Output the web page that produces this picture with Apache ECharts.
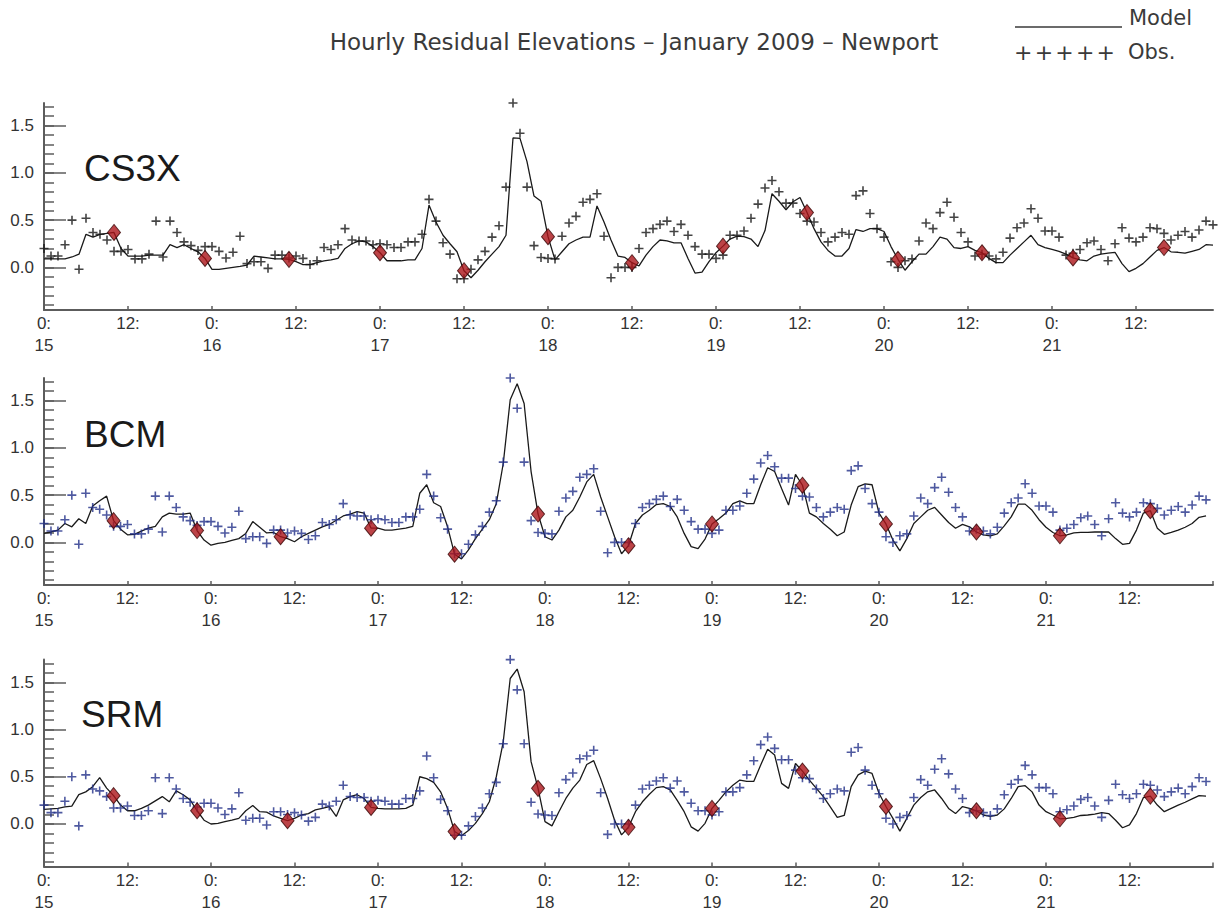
<!DOCTYPE html>
<html>
<head>
<meta charset="utf-8">
<title>Hourly Residual Elevations - January 2009 - Newport</title>
<script src="https://cdn.jsdelivr.net/npm/echarts@6/dist/echarts.min.js"></script>
<style>
  html, body { margin: 0; padding: 0; background: #ffffff; }
  #chart { width: 1219px; height: 914px; }
</style>
</head>
<body>
<div id="chart"></div>
<script>
// Hour offsets from 0:00, 15 January 2009
const hours = [
  0,1,2,3,4,5,6,7,8,9,10,11,12,13,14,15,16,17,18,19,20,21,22,23,
  24,25,26,27,28,29,30,31,32,33,34,35,36,37,38,39,40,41,42,43,44,45,46,47,
  48,49,50,51,52,53,54,55,56,57,58,59,60,61,62,63,64,65,66,67,68,69,70,71,
  72,73,74,75,76,77,78,79,80,81,82,83,84,85,86,87,88,89,90,91,92,93,94,95,
  96,97,98,99,100,101,102,103,104,105,106,107,108,109,110,111,112,113,114,115,116,117,118,119,
  120,121,122,123,124,125,126,127,128,129,130,131,132,133,134,135,136,137,138,139,140,141,142,143,
  144,145,146,147,148,149,150,151,152,153,154,155,156,157,158,159,160,161,162,163,164,165,166,167
];

// Observed hourly residual elevation (m)
const observed = [
  0.20,0.12,0.12,0.24,0.50,-0.02,0.52,0.37,0.35,0.29,0.17,0.17,0.19,0.09,0.09,0.14,0.49,0.11,0.49,0.37,0.27,0.23,0.18,0.22,
  0.22,0.17,0.10,0.16,0.33,0.04,0.06,0.06,-0.01,0.13,0.13,0.10,0.12,0.095,0.03,0.07,0.21,0.19,0.24,0.41,0.29,0.28,0.28,0.24,
  0.25,0.24,0.21,0.21,0.27,0.27,0.35,0.72,0.49,0.26,0.14,-0.12,-0.12,-0.02,0.08,0.17,0.32,0.44,0.85,1.74,1.42,0.85,0.23,0.105,
  0.095,0.09,0.33,0.47,0.54,0.69,0.72,0.78,0.33,-0.11,0.0,0.0,0.0,0.20,0.37,0.41,0.455,0.49,0.38,0.455,0.34,0.22,0.14,0.14,
  0.095,0.13,0.34,0.34,0.385,0.52,0.67,0.84,0.92,0.80,0.68,0.68,0.57,0.49,0.48,0.37,0.27,0.32,0.37,0.35,0.76,0.81,0.57,0.41,
  0.32,0.06,0.0,0.07,0.09,0.28,0.47,0.41,0.58,0.69,0.53,0.37,0.27,0.12,0.14,0.12,0.09,0.16,0.31,0.42,0.47,0.62,0.52,0.385,
  0.385,0.32,0.13,0.15,0.19,0.26,0.28,0.19,0.07,0.25,0.42,0.31,0.27,0.32,0.42,0.41,0.36,0.29,0.34,0.38,0.32,0.395,0.49,0.45
];

// CS3X model residual (m)
const modelCS3X = [
  0.09,0.09,0.09,0.09,0.11,0.14,0.35,0.32,0.35,0.36,0.37,0.20,0.12,0.12,0.12,0.13,0.13,0.13,0.24,0.21,0.24,0.20,0.165,0.095,
  -0.02,-0.02,-0.01,0.0,0.01,0.025,0.12,0.11,0.10,0.09,0.09,0.085,0.06,0.03,0.03,0.05,0.07,0.08,0.095,0.20,0.25,0.28,0.27,0.22,
  0.155,0.07,0.07,0.07,0.08,0.08,0.20,0.66,0.48,0.34,0.25,0.165,-0.035,-0.11,-0.03,0.06,0.14,0.22,0.34,1.37,1.365,1.12,0.755,0.70,
  0.325,0.08,0.165,0.25,0.29,0.32,0.32,0.65,0.48,0.29,0.12,0.105,0.05,0.015,0.13,0.22,0.29,0.28,0.26,0.26,0.095,-0.06,-0.05,0.06,
  0.155,0.225,0.30,0.33,0.325,0.30,0.22,0.39,0.78,0.70,0.61,0.695,0.74,0.58,0.41,0.27,0.18,0.12,0.12,0.20,0.40,0.38,0.41,0.41,
  0.38,0.22,0.085,-0.03,0.06,0.14,0.14,0.22,0.32,0.30,0.21,0.20,0.22,0.18,0.155,0.095,0.05,0.05,0.13,0.20,0.27,0.34,0.24,0.21,
  0.19,0.17,0.14,0.10,0.08,0.07,0.12,0.14,0.15,0.16,0.04,-0.045,-0.01,0.04,0.11,0.18,0.21,0.165,0.16,0.15,0.17,0.19,0.24,0.235
];

// BCM model residual (m)
const modelBCM = [
  0.095,0.11,0.13,0.20,0.165,0.25,0.20,0.385,0.44,0.49,0.23,0.14,0.08,0.085,0.12,0.15,0.17,0.27,0.31,0.30,0.30,0.31,0.125,0.025,
  -0.03,-0.01,0.0,0.02,0.04,0.095,0.22,0.16,0.10,0.105,0.06,0.04,0.007,0.06,0.095,0.13,0.165,0.19,0.235,0.28,0.30,0.325,0.31,0.15,
  0.15,0.13,0.13,0.14,0.15,0.17,0.52,0.61,0.42,0.38,0.165,-0.125,-0.175,-0.08,0.04,0.14,0.24,0.41,0.835,1.51,1.68,1.47,0.75,0.30,
  0.06,0.025,0.13,0.27,0.34,0.48,0.64,0.72,0.48,0.27,0.06,-0.12,-0.035,0.20,0.29,0.34,0.40,0.41,0.38,0.27,0.095,-0.045,-0.065,0.035,
  0.195,0.25,0.31,0.41,0.44,0.41,0.41,0.61,0.79,0.75,0.57,0.395,0.72,0.605,0.31,0.27,0.20,0.14,0.07,0.11,0.395,0.59,0.62,0.61,
  0.31,0.195,0.025,-0.09,0.04,0.20,0.27,0.34,0.37,0.29,0.21,0.15,0.19,0.165,0.11,0.08,0.07,0.09,0.175,0.27,0.405,0.405,0.34,0.24,
  0.16,0.105,0.07,0.08,0.10,0.105,0.105,0.11,0.11,0.11,0.04,-0.02,-0.01,0.13,0.31,0.335,0.15,0.085,0.105,0.13,0.16,0.20,0.265,0.28
];

// SRM model residual (m)
const modelSRM = [
  0.155,0.16,0.165,0.18,0.19,0.31,0.34,0.395,0.49,0.38,0.30,0.20,0.14,0.14,0.165,0.20,0.245,0.29,0.235,0.35,0.31,0.255,0.14,0.04,
  0.0,0.007,0.025,0.04,0.06,0.14,0.195,0.13,0.125,0.085,0.06,0.035,0.06,0.095,0.11,0.15,0.165,0.185,0.08,0.255,0.29,0.31,0.27,0.175,
  0.165,0.16,0.16,0.16,0.165,0.20,0.50,0.48,0.44,0.34,0.165,-0.08,-0.125,-0.07,0.007,0.11,0.235,0.50,0.87,1.54,1.64,1.40,0.66,0.377,
  0.025,-0.02,0.13,0.27,0.38,0.465,0.63,0.67,0.48,0.27,0.04,-0.115,-0.035,0.13,0.235,0.315,0.385,0.395,0.36,0.25,0.13,-0.03,-0.075,0.007,
  0.165,0.25,0.34,0.41,0.465,0.45,0.45,0.625,0.79,0.73,0.43,0.377,0.64,0.56,0.465,0.377,0.29,0.18,0.07,0.09,0.395,0.52,0.56,0.535,
  0.325,0.185,0.06,-0.075,0.06,0.20,0.28,0.34,0.36,0.27,0.165,0.11,0.185,0.165,0.14,0.095,0.08,0.095,0.16,0.27,0.395,0.405,0.34,0.20,
  0.13,0.095,0.055,0.06,0.07,0.09,0.095,0.105,0.12,0.11,0.04,-0.04,-0.01,0.11,0.28,0.295,0.20,0.13,0.165,0.20,0.23,0.265,0.30,0.295
];

// Model values at the semi-diurnal marker times
const markerHoursCS3X  = [10, 23, 35, 48, 60, 72, 84, 97, 109, 122, 134, 147, 160];
const markerValuesCS3X = [0.37, 0.095, 0.085, 0.155, -0.035, 0.325, 0.05, 0.225, 0.58, 0.085, 0.155, 0.10, 0.21];
const markerHoursBCM   = [10, 22, 34, 47, 59, 71, 84, 96, 109, 121, 134, 146, 159];
const markerValuesBCM  = [0.23, 0.125, 0.06, 0.15, -0.125, 0.30, -0.035, 0.195, 0.605, 0.195, 0.11, 0.07, 0.335];
const markerHoursSRM   = [10, 22, 35, 47, 59, 71, 84, 96, 109, 121, 134, 146, 159];
const markerValuesSRM  = [0.30, 0.14, 0.035, 0.175, -0.08, 0.377, -0.035, 0.165, 0.56, 0.185, 0.14, 0.055, 0.295];

// Axis ticks
const yMajorTicks = [0.0, 0.5, 1.0, 1.5];
const yMinorTicks = [-0.4, -0.3, -0.2, -0.1, 0.0, 0.1, 0.2, 0.3, 0.4, 0.5, 0.6, 0.7, 0.8, 0.9,
                     1.0, 1.1, 1.2, 1.3, 1.4, 1.5, 1.6, 1.7];
const xTickHours = [0, 12, 24, 36, 48, 60, 72, 84, 96, 108, 120, 132, 144, 156, 168];
const xLabelHours = [0, 12, 24, 36, 48, 60, 72, 84, 96, 108, 120, 132, 144, 156];
const firstDay = 15;

const panelNames = ['CS3X', 'BCM', 'SRM'];
const panelModels = [modelCS3X, modelBCM, modelSRM];
const panelMarkerHours = [markerHoursCS3X, markerHoursBCM, markerHoursSRM];
const panelMarkerValues = [markerValuesCS3X, markerValuesBCM, markerValuesSRM];
const panelObsColors = ['#151515', '#223088', '#223088'];
const panelHourSpan = [167, 168, 168];

// Layout of the three stacked panels
const gridTops = [103, 378, 659.6];
const gridHeight = 206.9;
const labelCenters = [[84, 168], [84, 434], [81, 714]];
const Y_MIN = -0.45, Y_MAX = 1.74;

const axisGray = '#5c5c5c';
const labelFont = { fontFamily: 'Liberation Sans, Arial, sans-serif', fontSize: 17, color: '#333333' };
const crossPath = 'path://M5,0 L5,10 M0,5 L10,5';

const grids = [], xAxes = [], yAxes = [], series = [], graphics = [];

panelNames.forEach((name, k) => {
  grids.push({ left: 44, right: 6, top: gridTops[k], height: gridHeight, containLabel: false });

  const span = panelHourSpan[k];
  xAxes.push({
    gridIndex: k, type: 'value', min: 0, max: span,
    axisLine: { show: true, onZero: false, lineStyle: { color: axisGray, width: 2 } },
    axisTick: { show: true, inside: true, length: 4,
      customValues: xTickHours.filter(h => h <= span),
      lineStyle: { color: axisGray, width: 1.5 } },
    axisLabel: Object.assign({
      customValues: xLabelHours,
      margin: 3, lineHeight: 22, align: 'center',
      formatter: v => (v % 24 === 0 ? '0:\n' + (firstDay + v / 24) : '12:')
    }, labelFont),
    splitLine: { show: false }
  });

  // short ticks every 0.1 and the value labels
  yAxes.push({
    gridIndex: k, type: 'value', min: Y_MIN, max: Y_MAX, position: 'left',
    axisLine: { show: true, onZero: false, lineStyle: { color: axisGray, width: 2 } },
    axisTick: { show: true, inside: true, length: 10, customValues: yMinorTicks,
      lineStyle: { color: axisGray, width: 1.5 } },
    axisLabel: Object.assign({ customValues: yMajorTicks, margin: 10,
      formatter: v => v.toFixed(1) }, labelFont),
    splitLine: { show: false }
  });
  // long ticks at the labelled values
  yAxes.push({
    gridIndex: k, type: 'value', min: Y_MIN, max: Y_MAX, position: 'left',
    axisLine: { show: false, onZero: false },
    axisTick: { show: true, inside: true, length: 22, customValues: yMajorTicks,
      lineStyle: { color: axisGray, width: 1.5 } },
    axisLabel: { show: false },
    splitLine: { show: false }
  });

  const model = panelModels[k];
  series.push({
    name: name + ' model', type: 'line', xAxisIndex: k, yAxisIndex: 2 * k,
    data: hours.map((h, i) => [h, model[i]]),
    symbol: 'none', silent: true, z: 2,
    lineStyle: { color: '#1a1a1a', width: 1.3 }
  });
  series.push({
    name: 'Obs.', type: 'scatter', xAxisIndex: k, yAxisIndex: 2 * k,
    data: hours.map((h, i) => [h, observed[i]]),
    symbol: crossPath, symbolSize: 9, clip: false, silent: true, z: 3,
    itemStyle: { color: 'rgba(0,0,0,0)', borderColor: panelObsColors[k], borderWidth: 1.6 }
  });
  const mh = panelMarkerHours[k], mv = panelMarkerValues[k];
  series.push({
    name: name + ' markers', type: 'scatter', xAxisIndex: k, yAxisIndex: 2 * k,
    data: mh.map((h, i) => [h, mv[i]]),
    symbol: 'diamond', symbolSize: [13, 16], silent: true, z: 4,
    itemStyle: { color: '#ab1419', borderColor: '#3a0606', borderWidth: 1 }
  });

  graphics.push({
    type: 'text', x: labelCenters[k][0], y: labelCenters[k][1],
    style: { text: name, fontFamily: 'Liberation Sans, Arial, sans-serif',
      fontSize: 37, fill: '#1a1a1a', verticalAlign: 'middle' }
  });
});

// Title and the line / cross key in the top-right corner
const headFont = 'DejaVu Sans, Liberation Sans, sans-serif';
const headColor = '#3a3a3a';
graphics.push(
  { type: 'text', x: 634, y: 42,
    style: { text: 'Hourly Residual Elevations \u2013 January 2009 \u2013 Newport',
      fontFamily: headFont, fontSize: 23, fill: headColor, align: 'center', verticalAlign: 'middle' } },
  { type: 'line', shape: { x1: 1015, y1: 27, x2: 1122, y2: 27 },
    style: { stroke: headColor, lineWidth: 1.3 } },
  { type: 'text', x: 1129, y: 18,
    style: { text: 'Model', fontFamily: headFont, fontSize: 21, fill: headColor, verticalAlign: 'middle' } },
  { type: 'text', x: 1014, y: 52,
    style: { text: '+\u200A+\u200A+\u200A+\u200A+', fontFamily: headFont, fontSize: 22, fill: headColor, verticalAlign: 'middle' } },
  { type: 'text', x: 1128, y: 52,
    style: { text: 'Obs.', fontFamily: headFont, fontSize: 21, fill: headColor, verticalAlign: 'middle' } }
);

const chart = echarts.init(document.getElementById('chart'), null, { renderer: 'svg' });
chart.setOption({
  animation: false,
  backgroundColor: '#ffffff',
  grid: grids,
  xAxis: xAxes,
  yAxis: yAxes,
  series: series,
  graphic: graphics
});
</script>
</body>
</html>
